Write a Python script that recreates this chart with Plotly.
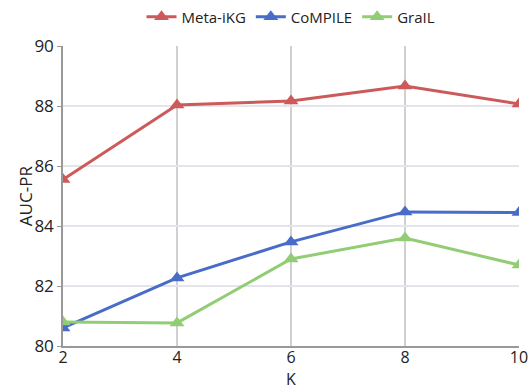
import plotly.graph_objects as go

K = [2, 4, 6, 8, 10]
meta_ikg = [85.55, 88.03, 88.17, 88.67, 88.07]
compile_ = [80.6, 82.27, 83.47, 84.47, 84.45]
grail = [80.8, 80.77, 82.9, 83.6, 82.7]

series = [
    ("Meta-iKG", meta_ikg, "rgb(205,90,90)"),
    ("CoMPILE", compile_, "rgb(72,108,200)"),
    ("GraIL", grail, "rgb(146,204,116)"),
]

fig = go.Figure()
for name, vals, col in series:
    fig.add_trace(go.Scatter(
        x=K, y=vals, name=name, mode="lines+markers",
        line=dict(color=col, width=3),
        marker=dict(symbol="triangle-up", size=13, color=col),
    ))

fig.update_layout(
    width=530, height=386,
    margin=dict(l=63, r=11, t=46, b=40, autoexpand=False),
    paper_bgcolor="white", plot_bgcolor="white",
    font=dict(family="Open Sans, sans-serif", size=16, color="#222"),
    legend=dict(orientation="h", x=0.5, xanchor="center", y=1.097, yanchor="middle",
                font=dict(size=15), itemwidth=30),
    showlegend=True,
    annotations=[
        dict(text="K", x=0.5, y=-0.109, xref="paper", yref="paper",
             xanchor="center", yanchor="middle", showarrow=False, font=dict(size=16)),
        dict(text="AUC-PR", x=-0.083, y=0.5, xref="paper", yref="paper", textangle=-90,
             xanchor="center", yanchor="middle", showarrow=False, font=dict(size=17)),
    ],
)
fig.update_xaxes(
    range=[2, 10], tickvals=K, showgrid=True, gridcolor="#d0d0d0", gridwidth=1.5,
    showline=True, linecolor="#999", linewidth=1.5, zeroline=False,
    ticks="", tickfont=dict(size=16), automargin=False, ticklabelstandoff=-4,
)
fig.update_yaxes(
    range=[80, 90], dtick=2, showgrid=True, gridcolor="#e4e4ec", gridwidth=1.5,
    showline=True, linecolor="#999", linewidth=1.5, zeroline=False,
    ticks="outside", ticklen=4, tickcolor="#999", tickfont=dict(size=17),
    automargin=False,
)

fig.write_html(
    "out.html",
    config={"displayModeBar": False},
    post_script="document.body.style.margin='0';document.body.style.overflow='hidden';",
)
